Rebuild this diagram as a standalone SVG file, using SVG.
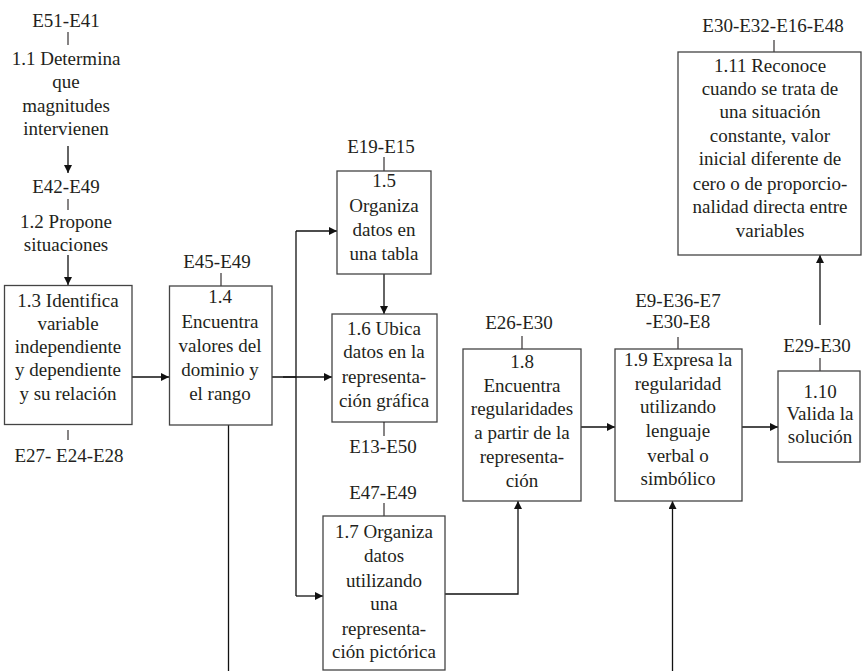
<svg xmlns="http://www.w3.org/2000/svg" width="862" height="671" viewBox="0 0 862 671">
  <defs>
    <marker id="arr" viewBox="0 0 10 10" refX="10" refY="5" markerWidth="8" markerHeight="8" markerUnits="userSpaceOnUse" orient="auto">
      <path d="M0,0 L10,5 L0,10 z" fill="#111"/>
    </marker>
    <style>
      .node text { font-family: 'Liberation Serif', serif; font-size: 19px; fill: #231f20; text-anchor: middle; }
      .box { fill: none; stroke: #444; stroke-width: 1.3; }
      .tick { stroke: #231f20; stroke-width: 1.1; }
      .conn { fill: none; stroke: #111; stroke-width: 1.3; }
      .arrow { marker-end: url(#arr); }
    </style>
  </defs>
  <rect width="862" height="671" fill="#fff"/>

  <!-- connectors -->
  <g id="connectors">
    <line class="conn arrow" x1="68" y1="146" x2="68" y2="173"/>
    <line class="conn arrow" x1="68" y1="255" x2="68" y2="285"/>
    <line class="conn arrow" x1="132" y1="377" x2="169" y2="377"/>
    <line class="conn arrow" x1="272" y1="377" x2="332" y2="377"/>
    <line class="conn" x1="283" y1="377" x2="296" y2="377" stroke-width="2.4"/>
    <line class="conn" x1="296" y1="231" x2="296" y2="596"/>
    <line class="conn arrow" x1="296" y1="231" x2="337" y2="231"/>
    <line class="conn arrow" x1="296" y1="596" x2="323" y2="596"/>
    <line class="conn arrow" x1="384" y1="274" x2="384" y2="314"/>
    <polyline class="conn arrow" points="445,594 518,594 518,501"/>
    <line class="conn arrow" x1="581" y1="427" x2="615" y2="427"/>
    <line class="conn arrow" x1="742" y1="427" x2="778" y2="427"/>
    <line class="conn arrow" x1="820" y1="325" x2="820" y2="255"/>
    <line class="conn" x1="228.5" y1="425" x2="228.5" y2="671"/>
    <line class="conn arrow" x1="672.5" y1="671" x2="672.5" y2="501"/>
  </g>

  <!-- 1.1 -->
  <g id="n1_1" class="node">
    <text x="66" y="27">E51-E41</text>
    <line class="tick" x1="68" y1="32" x2="68" y2="45"/>
    <text x="66" y="65">1.1 Determina</text>
    <text x="66" y="88">que</text>
    <text x="66" y="112">magnitudes</text>
    <text x="66" y="135">intervienen</text>
  </g>

  <!-- 1.2 -->
  <g id="n1_2" class="node">
    <text x="66" y="193">E42-E49</text>
    <line class="tick" x1="68" y1="199" x2="68" y2="210"/>
    <text x="66" y="228">1.2 Propone</text>
    <text x="66" y="251">situaciones</text>
  </g>

  <!-- 1.3 -->
  <g id="n1_3" class="node">
    <rect class="box" x="4.5" y="285.5" width="127.5" height="139"/>
    <text x="68" y="307">1.3 Identifica</text>
    <text x="68" y="330">variable</text>
    <text x="68" y="353">independiente</text>
    <text x="68" y="376">y dependiente</text>
    <text x="68" y="400">y su relación</text>
    <line class="tick" x1="68" y1="430" x2="68" y2="440"/>
    <text x="69" y="462">E27- E24-E28</text>
  </g>

  <!-- 1.4 -->
  <g id="n1_4" class="node">
    <text x="217" y="268">E45-E49</text>
    <line class="tick" x1="221" y1="273" x2="221" y2="286"/>
    <rect class="box" x="169.5" y="286" width="102.5" height="139"/>
    <text x="220" y="303">1.4</text>
    <text x="220" y="328">Encuentra</text>
    <text x="220" y="352">valores del</text>
    <text x="220" y="376">dominio y</text>
    <text x="220" y="400">el rango</text>
  </g>

  <!-- 1.5 -->
  <g id="n1_5" class="node">
    <text x="381" y="153">E19-E15</text>
    <line class="tick" x1="384" y1="157" x2="384" y2="171"/>
    <rect class="box" x="337" y="171" width="94" height="103"/>
    <text x="384" y="187">1.5</text>
    <text x="384" y="212">Organiza</text>
    <text x="384" y="236">datos en</text>
    <text x="384" y="260">una tabla</text>
  </g>

  <!-- 1.6 -->
  <g id="n1_6" class="node">
    <rect class="box" x="332" y="314" width="105" height="108"/>
    <text x="384" y="335">1.6 Ubica</text>
    <text x="384" y="358">datos en la</text>
    <text x="384" y="383">representa-</text>
    <text x="384" y="407">ción gráfica</text>
    <line class="tick" x1="384" y1="422" x2="384" y2="436"/>
    <text x="383" y="453">E13-E50</text>
  </g>

  <!-- 1.7 -->
  <g id="n1_7" class="node">
    <text x="383" y="499">E47-E49</text>
    <line class="tick" x1="384" y1="503" x2="384" y2="516"/>
    <rect class="box" x="323" y="516" width="122" height="154"/>
    <text x="384" y="538">1.7 Organiza</text>
    <text x="384" y="562">datos</text>
    <text x="384" y="587">utilizando</text>
    <text x="384" y="610">una</text>
    <text x="384" y="635">representa-</text>
    <text x="384" y="658">ción pictórica</text>
  </g>

  <!-- 1.8 -->
  <g id="n1_8" class="node">
    <text x="519" y="329">E26-E30</text>
    <line class="tick" x1="522" y1="336" x2="522" y2="349"/>
    <rect class="box" x="463" y="349" width="118" height="152"/>
    <text x="522" y="368">1.8</text>
    <text x="522" y="392">Encuentra</text>
    <text x="522" y="415">regularidades</text>
    <text x="522" y="439">a partir de la</text>
    <text x="522" y="463">representa-</text>
    <text x="522" y="487">ción</text>
  </g>

  <!-- 1.9 -->
  <g id="n1_9" class="node">
    <text x="678" y="307">E9-E36-E7</text>
    <text x="678" y="328">-E30-E8</text>
    <line class="tick" x1="678" y1="337" x2="678" y2="349"/>
    <rect class="box" x="615" y="349" width="127" height="152"/>
    <text x="678" y="366">1.9 Expresa la</text>
    <text x="678" y="390">regularidad</text>
    <text x="678" y="413">utilizando</text>
    <text x="678" y="437">lenguaje</text>
    <text x="678" y="462">verbal o</text>
    <text x="678" y="485">simbólico</text>
  </g>

  <!-- 1.10 -->
  <g id="n1_10" class="node">
    <text x="817" y="352">E29-E30</text>
    <line class="tick" x1="820" y1="358" x2="820" y2="371"/>
    <rect class="box" x="778" y="371" width="82" height="91"/>
    <text x="820" y="398">1.10</text>
    <text x="820" y="420">Valida la</text>
    <text x="820" y="443">solución</text>
  </g>

  <!-- 1.11 -->
  <g id="n1_11" class="node">
    <text x="773" y="32">E30-E32-E16-E48</text>
    <line class="tick" x1="774" y1="40" x2="774" y2="52"/>
    <rect class="box" x="678" y="52" width="183" height="203"/>
    <text x="770" y="72">1.11 Reconoce</text>
    <text x="770" y="95">cuando se trata de</text>
    <text x="770" y="118">una situación</text>
    <text x="770" y="142">constante, valor</text>
    <text x="770" y="165">inicial diferente de</text>
    <text x="770" y="190">cero o de proporcio-</text>
    <text x="770" y="213">nalidad directa entre</text>
    <text x="770" y="237">variables</text>
  </g>
</svg>
